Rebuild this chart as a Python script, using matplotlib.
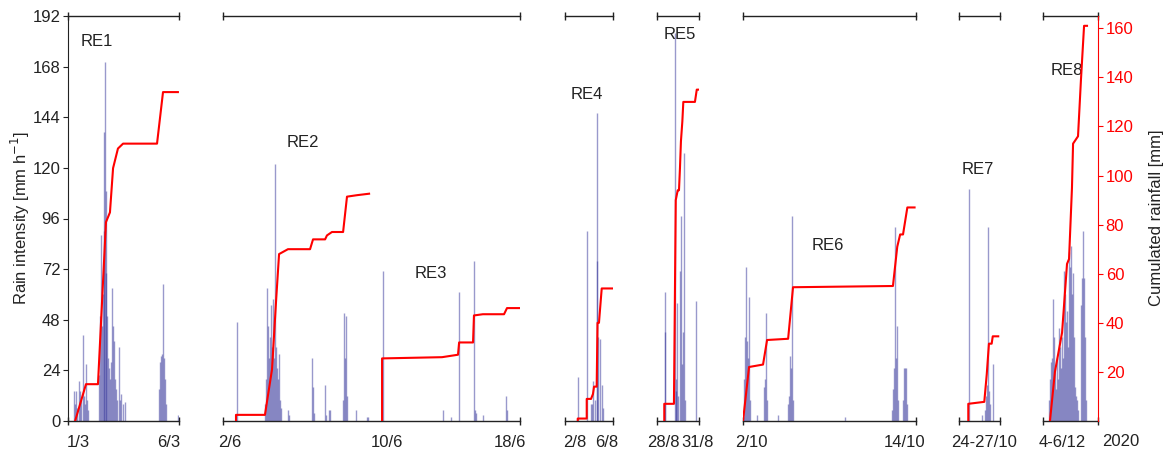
import numpy as np
import matplotlib.pyplot as plt

plt.rcParams['font.family'] = ['Liberation Sans', 'DejaVu Sans']

# ---- data: time in days from the start of each panel ----
# RE1 (1/3 - 6/3)
re1_bar_t = [0.27, 0.32, 0.36, 0.41, 0.50, 0.54, 0.59, 0.68, 0.72, 0.77, 0.81, 0.86, 0.90,
             1.40, 1.44, 1.49, 1.53, 1.58, 1.62, 1.64, 1.67, 1.69, 1.71, 1.76, 1.80, 1.85,
             1.89, 1.94, 1.98, 2.03, 2.07, 2.12, 2.16, 2.21, 2.30, 2.34, 2.39, 2.48, 2.57,
             4.10, 4.14, 4.19, 4.23, 4.28, 4.32, 4.37, 4.41, 4.95]
re1_bar_v = [14, 8, 14, 6, 19, 14, 10, 41, 12, 8, 27, 10, 5,
             22, 50, 88, 45, 60, 137, 90, 170, 109, 70, 50, 30, 25,
             20, 28, 63, 45, 38, 20, 15, 10, 35, 10, 13, 8, 9,
             15, 28, 31, 32, 65, 30, 20, 8, 3]
re1_cum_t = [0.32, 0.81, 1.35, 1.71, 1.89, 2.03, 2.25, 2.48, 4.01, 4.28, 4.95]
re1_cum_v = [0, 15, 15, 81, 85, 103, 111, 113, 113, 134, 134]

# RE2 + RE3 (2/6 - 18/6)
re2_bar_t = [0.75, 2.26, 2.32, 2.37, 2.43, 2.48, 2.53, 2.59, 2.64, 2.69, 2.75, 2.80, 2.86,
             2.91, 2.96, 3.02, 3.07, 3.13, 3.50, 3.56, 4.80, 4.85, 4.90, 5.50, 5.55, 5.71,
             5.77, 6.47, 6.52, 6.57, 6.63, 6.68, 7.17, 7.76, 7.81]
re2_bar_v = [47, 8, 20, 63, 45, 30, 40, 55, 35, 58, 30, 122, 35,
             25, 20, 32, 10, 6, 5, 3, 30, 16, 4, 17, 3, 5,
             5, 10, 51, 30, 50, 12, 5, 2, 2]
re2_cum_t = [0.70, 0.70, 2.26, 2.64, 2.86, 3.02, 3.50, 4.69, 4.85, 5.50, 5.60, 5.87, 6.47,
             6.68, 7.22, 7.87]
re2_cum_v = [0, 2.5, 2.5, 21, 49, 68, 70, 70, 74, 74, 75.6, 77, 77, 91.4, 92, 92.6]

re3_bar_t = [8.62, 11.85, 12.28, 12.72, 13.52, 13.58, 13.63, 14.01, 15.25, 15.30]
re3_bar_v = [71, 5, 2, 61, 76, 5, 4, 3, 12, 5]
re3_cum_t = [8.57, 8.57, 11.80, 12.66, 12.72, 13.47, 13.52, 14.00, 15.14, 15.30, 15.95]
re3_cum_v = [0, 25.5, 26, 27, 32, 32, 43, 43.5, 43.5, 46, 46]

# RE4 (2/8 - 6/8)
re4_bar_t = [1.06, 1.83, 2.17, 2.25, 2.33, 2.50, 2.64, 2.67, 2.75, 2.92, 3.06, 3.17]
re4_bar_v = [21, 90, 8, 8, 19, 10, 146, 76, 40, 39, 17, 6]
re4_cum_t = [1.06, 1.06, 1.81, 1.81, 2.17, 2.33, 2.42, 2.64, 2.71, 2.83, 3.06, 4.00]
re4_cum_v = [0, 1, 1, 9, 9, 11, 14, 14, 40, 40, 54, 54]

# RE5 (28/8 - 31/8)
re5_bar_t = [0.57, 0.57, 1.29, 1.33, 1.36, 1.43, 1.50, 1.64, 1.71, 1.79, 1.84, 1.93, 2.00, 2.79]
re5_bar_v = [61, 42, 184, 14, 20, 56, 12, 71, 97, 27, 42, 127, 10, 57]
re5_cum_t = [0.52, 0.52, 1.21, 1.34, 1.48, 1.57, 1.64, 1.71, 1.81, 1.88, 2.71, 2.84, 3.00]
re5_cum_v = [0, 7, 7, 90, 94, 94, 103, 114, 122, 130, 130, 135, 135]

# RE6 (2/10 - 14/10)
re6_bar_t = [0.07, 0.14, 0.21, 0.28, 0.35, 0.42, 0.49, 0.97, 1.46, 1.53, 1.60, 1.66, 2.43,
             3.12, 3.19, 3.26, 3.33, 3.40, 3.47, 7.07, 10.33, 10.40, 10.47, 10.54, 10.61,
             10.68, 10.75, 11.10, 11.17, 11.23, 11.30, 11.37]
re6_bar_v = [20, 40, 73, 38, 30, 59, 10, 3, 16, 20, 51, 10, 3,
             8, 12, 31, 25, 97, 10, 2, 5, 15, 25, 92, 30,
             45, 10, 10, 25, 25, 25, 8]
re6_cum_t = [0, 0.42, 1.39, 1.67, 3.13, 3.47, 10.4, 10.7, 10.9, 11.1, 11.4, 11.9]
re6_cum_v = [0, 22, 23, 33, 33.5, 54.5, 55, 71, 76, 76, 87, 87]

# RE7 (24/10 - 27/10)
re7_bar_t = [0.73, 1.68, 1.90, 1.98, 2.05, 2.12, 2.19, 2.27, 2.49]
re7_bar_v = [110, 3, 5, 12, 17, 92, 14, 8, 27]
re7_cum_t = [0.68, 0.68, 1.85, 2.03, 2.19, 2.39, 2.47, 2.87]
re7_cum_v = [0, 7, 7.8, 19, 31.5, 31.5, 34.5, 34.5]

# RE8 (4/12 - 6/12)
re8_bar_t = [0.33, 0.38, 0.44, 0.49, 0.55, 0.60, 0.66, 0.71, 0.76, 0.82, 0.87, 0.93, 0.98,
             1.04, 1.09, 1.15, 1.20, 1.26, 1.31, 1.36, 1.42, 1.47, 1.53, 1.58, 1.64, 1.69,
             1.75, 1.80, 1.86, 1.91, 2.07, 2.13, 2.18, 2.24, 2.29, 2.35]
re8_bar_v = [10, 20, 28, 30, 58, 40, 25, 15, 30, 20, 44, 35, 25,
             40, 30, 71, 60, 47, 52, 35, 80, 73, 83, 60, 70, 40,
             16, 12, 10, 5, 55, 68, 90, 68, 40, 10]
re8_cum_t = [0.38, 0.65, 1.04, 1.31, 1.42, 1.58, 1.64, 1.91, 2.07, 2.24, 2.40]
re8_cum_v = [0, 20, 36, 64, 66, 95, 113, 116, 139, 161, 161]

# ---- layout (pixels) ----
W, H = 1169, 451
YB, YT = 421, 16
BAR_C = '#34349a'

panels = [
    # px0, px1, span, events, tick pos, tick labels
    (68, 179, 5, [(re1_bar_t, re1_bar_v, re1_cum_t, re1_cum_v, 'RE1', 1.31, 180)],
     [0.45, 4.55], ['1/3', '6/3']),
    (223, 520, 16, [(re2_bar_t, re2_bar_v, re2_cum_t, re2_cum_v, 'RE2', 4.3, 132),
                    (re3_bar_t, re3_bar_v, re3_cum_t, re3_cum_v, 'RE3', 11.2, 70)],
     [0.38, 8.84, 15.46], ['2/6', '10/6', '18/6']),
    (565, 613, 4, [(re4_bar_t, re4_bar_v, re4_cum_t, re4_cum_v, 'RE4', 1.8, 155)],
     [0.83, 3.5], ['2/8', '6/8']),
    (657, 699, 3, [(re5_bar_t, re5_bar_v, re5_cum_t, re5_cum_v, 'RE5', 1.64, 183)],
     [0.43, 2.86], ['28/8', '31/8']),
    (743, 916, 12, [(re6_bar_t, re6_bar_v, re6_cum_t, re6_cum_v, 'RE6', 5.9, 83)],
     [0.55, 11.23], ['2/10', '14/10']),
    (959, 1000, 3, [(re7_bar_t, re7_bar_v, re7_cum_t, re7_cum_v, 'RE7', 1.35, 119)],
     [1.83], ['24-27/10']),
    (1043, 1098, 3, [(re8_bar_t, re8_bar_v, re8_cum_t, re8_cum_v, 'RE8', 1.3, 166)],
     [1.04], ['4-6/12']),
]

fig = plt.figure(figsize=(W / 100, H / 100), dpi=100)

for i, (p0, p1, span, events, tpos, tlab) in enumerate(panels):
    ax = fig.add_axes([p0 / W, 1 - YB / H, (p1 - p0) / W, (YB - YT) / H])
    ax.patch.set_alpha(0)
    ax.set_xlim(0, span)
    ax.set_ylim(0, 192)
    for s in ['left', 'right']:
        ax.spines[s].set_visible(False)
    for s in ['top', 'bottom']:
        ax.spines[s].set_linewidth(1.0)
        ax.spines[s].set_color('#222222')

    ax.set_xticks(tpos)
    ax.set_xticklabels(tlab, fontsize=12, color='#222222')
    ax.set_xticks([0, span], minor=True)
    ax.tick_params(axis='x', which='major', length=0, pad=10)
    ax.tick_params(axis='x', which='minor', direction='inout', length=6, width=1,
                   top=True, bottom=True, color='#222222')

    if i == 0:
        ax.spines['left'].set_visible(True)
        ax.spines['left'].set_color('#222222')
        ax.set_yticks(np.arange(0, 193, 24))
        ax.tick_params(axis='y', direction='out', length=3.5, pad=2, labelsize=12,
                       colors='#222222')
    else:
        ax.set_yticks([])

    tw = ax.twinx()
    tw.set_ylim(0, 165)
    for s in tw.spines.values():
        s.set_visible(False)
    if i == len(panels) - 1:
        tw.spines['right'].set_visible(True)
        tw.spines['right'].set_color('red')
        tw.set_yticks(np.arange(20, 161, 20))
        tw.tick_params(axis='y', colors='red', direction='out', length=3.5, pad=2,
                       labelsize=12)
    else:
        tw.set_yticks([])

    for bt, bv, ct, cv, name, lx, ly in events:
        ax.vlines(bt, 0, bv, colors=BAR_C, alpha=0.5, lw=1.0)
        tw.plot(ct, cv, color='red', lw=1.5)
        ax.text(lx, ly, name, fontsize=12, ha='center', va='center', color='#222222')

fig.text(20 / W, 1 - 218 / H, 'Rain intensity [mm h$^{-1}$]', rotation=90,
         ha='center', va='center', fontsize=12, color='#222222')
fig.text(1157 / W, 1 - 218 / H, 'Cumulated rainfall [mm]', rotation=90,
         ha='center', va='center', fontsize=12, color='#222222')
fig.text(1121 / W, 1 - 442 / H, '2020', ha='center', va='center', fontsize=12,
         color='#222222')

fig.savefig('out.png', dpi=100)
